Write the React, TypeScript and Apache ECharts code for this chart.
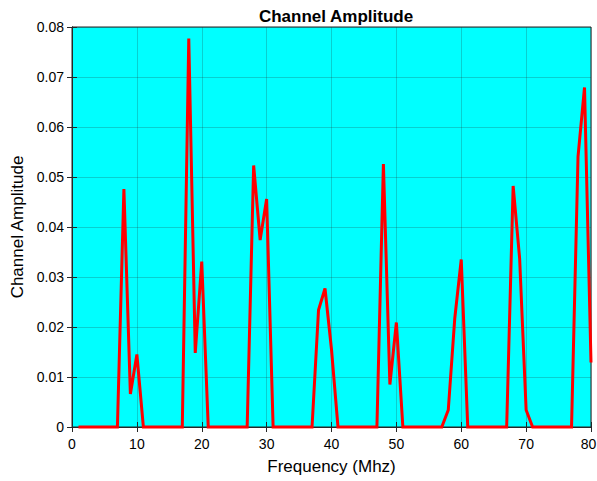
import React, { useEffect, useRef } from "react";
import * as echarts from "echarts";

const frequencies = [
  1, 2, 3, 4, 5, 6, 7, 8, 9, 10, 11, 12, 13, 14, 15, 16, 17, 18, 19, 20,
  21, 22, 23, 24, 25, 26, 27, 28, 29, 30, 31, 32, 33, 34, 35, 36, 37, 38, 39, 40,
  41, 42, 43, 44, 45, 46, 47, 48, 49, 50, 51, 52, 53, 54, 55, 56, 57, 58, 59, 60,
  61, 62, 63, 64, 65, 66, 67, 68, 69, 70, 71, 72, 73, 74, 75, 76, 77, 78, 79, 80,
];

const amplitudes = [
  0, 0, 0, 0, 0, 0, 0, 0.0476, 0.0066, 0.0145,
  0, 0, 0, 0, 0, 0, 0, 0.0777, 0.0148, 0.0331,
  0, 0, 0, 0, 0, 0, 0, 0.0523, 0.0374, 0.0456,
  0, 0, 0, 0, 0, 0, 0, 0.0234, 0.0277, 0.0155,
  0, 0, 0, 0, 0, 0, 0, 0.0526, 0.0085, 0.0209,
  0, 0, 0, 0, 0, 0, 0, 0.0034, 0.0217, 0.0335,
  0, 0, 0, 0, 0, 0, 0, 0.0482, 0.0337, 0.0034,
  0, 0, 0, 0, 0, 0, 0, 0.0541, 0.0679, 0.0129,
];

const xTicks = [0, 10, 20, 30, 40, 50, 60, 70, 80];
const yTicks = [0, 0.01, 0.02, 0.03, 0.04, 0.05, 0.06, 0.07, 0.08];

const FONT = "'Liberation Sans', Arial, sans-serif";
const AXIS_COLOR = "#262626";
const GRID_COLOR = "rgba(38,38,38,0.22)";

export default function App() {
  const ref = useRef<HTMLDivElement>(null);

  useEffect(() => {
    if (!ref.current) return;
    const chart = echarts.init(ref.current, undefined, { renderer: "svg" });
    const data = frequencies.map((f, i) => [f, amplitudes[i]]);
    const lastX = xTicks[xTicks.length - 1];
    const xLabel = (v: number) => {
      if (!xTicks.includes(v)) return "";
      return v === lastX ? `{edge|${v}}` : String(v);
    };
    const yLabel = (v: number) => {
      const r = Math.round(v * 100) / 100;
      if (!yTicks.some((t) => Math.abs(t - r) < 1e-9)) return "";
      return r === 0 ? "0" : r.toFixed(2);
    };
    chart.setOption({
      animation: false,
      backgroundColor: "#ffffff",
      title: {
        text: "Channel Amplitude",
        left: 331,
        textAlign: "center",
        top: 3,
        textStyle: { fontFamily: FONT, fontSize: 17, fontWeight: "bold", color: "#000" },
      },
      grid: {
        left: 72,
        right: 6,
        top: 27,
        bottom: 54,
        containLabel: false,
        outerBoundsMode: "none",
        show: true,
        backgroundColor: "#00ffff",
        borderColor: AXIS_COLOR,
        borderWidth: 1,
      },
      xAxis: [
        {
          type: "value",
          min: 0,
          max: 80,
          interval: 10,
          name: "Frequency (Mhz)",
          nameLocation: "middle",
          nameGap: 31,
          nameTextStyle: { fontFamily: FONT, fontSize: 17, color: "#000" },
          axisLine: { show: true, lineStyle: { color: AXIS_COLOR } },
          axisTick: { show: true, inside: true, length: 5, lineStyle: { color: AXIS_COLOR } },
          axisLabel: {
            formatter: xLabel,
            fontFamily: FONT,
            fontSize: 14,
            color: "#000",
            margin: 10,
            rich: {
              edge: { fontFamily: FONT, fontSize: 14, color: "#000", padding: [0, 5, 0, 0] },
            },
          },
          splitLine: { show: true, lineStyle: { color: GRID_COLOR, width: 1 } },
        },
        {
          type: "value",
          position: "top",
          min: 0,
          max: 80,
          interval: 10,
          axisLine: { show: true, lineStyle: { color: AXIS_COLOR } },
          axisTick: { show: true, inside: true, length: 5, lineStyle: { color: AXIS_COLOR } },
          axisLabel: { show: false },
          splitLine: { show: false },
        },
      ],
      yAxis: [
        {
          type: "value",
          min: 0,
          max: 0.08,
          interval: 0.01,
          name: "Channel Amplitude",
          nameLocation: "middle",
          nameGap: 44,
          nameTextStyle: { fontFamily: FONT, fontSize: 17, color: "#000" },
          axisLine: { show: true, lineStyle: { color: AXIS_COLOR } },
          axisTick: { show: true, inside: true, length: 5, lineStyle: { color: AXIS_COLOR } },
          axisLabel: { formatter: yLabel, fontFamily: FONT, fontSize: 14, color: "#000", margin: 8 },
          splitLine: { show: true, lineStyle: { color: GRID_COLOR, width: 1 } },
        },
        {
          type: "value",
          position: "right",
          min: 0,
          max: 0.08,
          interval: 0.01,
          axisLine: { show: true, lineStyle: { color: AXIS_COLOR } },
          axisTick: { show: true, inside: true, length: 5, lineStyle: { color: AXIS_COLOR } },
          axisLabel: { show: false },
          splitLine: { show: false },
        },
      ],
      series: [
        {
          type: "line",
          data,
          xAxisIndex: 0,
          yAxisIndex: 0,
          showSymbol: false,
          symbol: "none",
          clip: false,
          lineStyle: { color: "#ff0000", width: 3, join: "miter" },
        },
      ],
    });
    return () => chart.dispose();
  }, []);

  return <div ref={ref} style={{ width: 597, height: 481, position: "absolute", left: 0, top: 0 }} />;
}
